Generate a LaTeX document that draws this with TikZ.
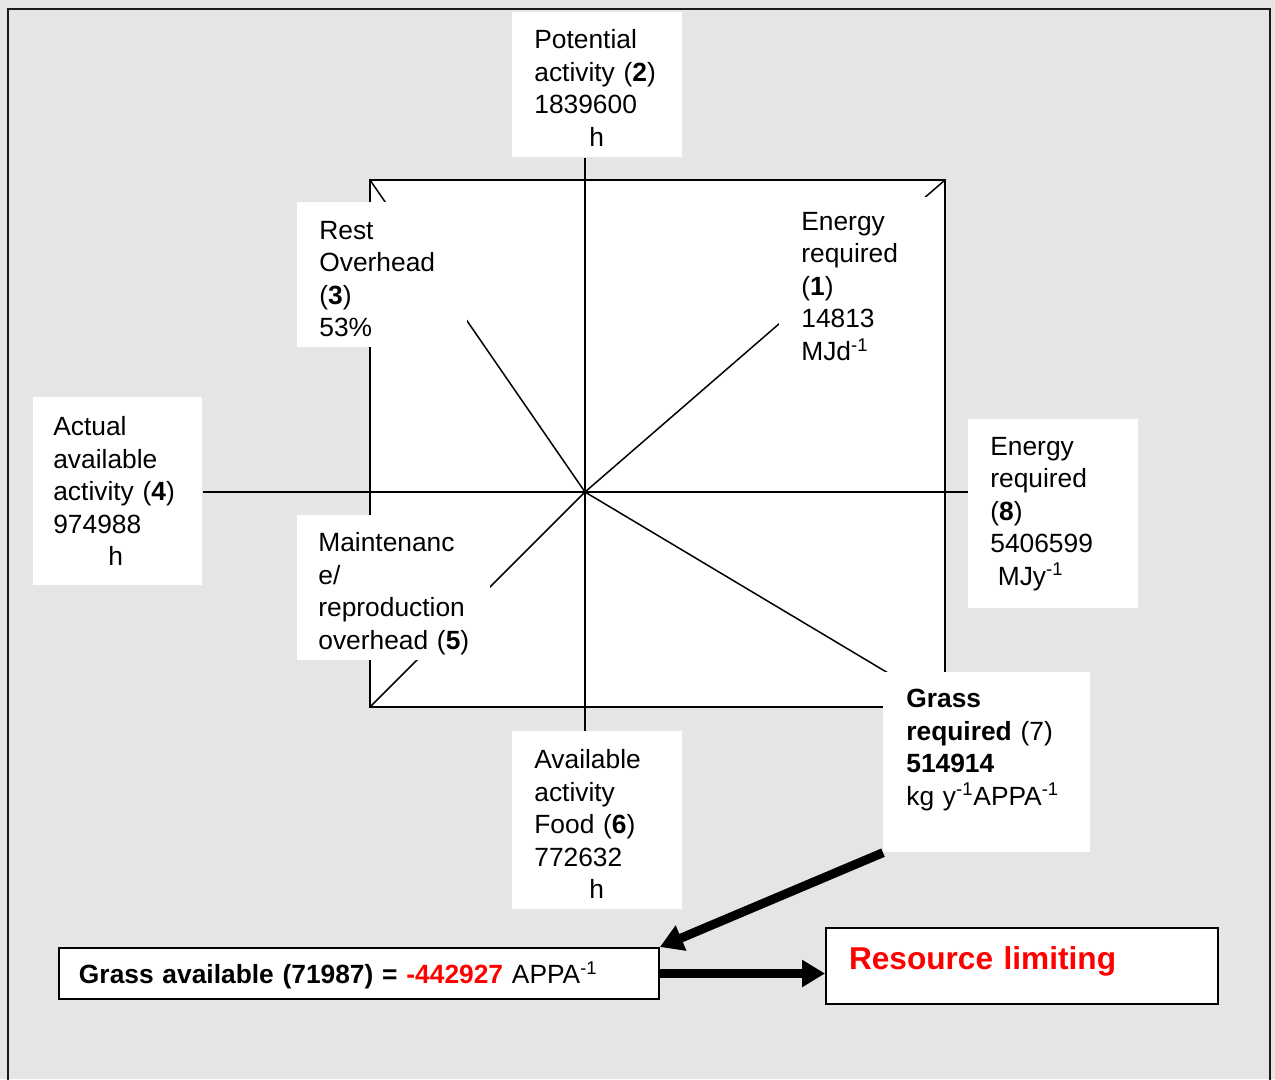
\documentclass[tikz,border=0pt]{standalone}
\usepackage{fontspec}
\setmainfont{Liberation Sans}
\usetikzlibrary{arrows.meta}
\definecolor{pagegray}{HTML}{E5E5E5}
\definecolor{framegray}{HTML}{1A1A1A}
\newcommand\firstgap[1]{\rule{0pt}{#1}}

\begin{document}
\begin{tikzpicture}[
  x=0.02cm, y=-0.02cm,
  every node/.style={font=\fontsize{15}{18.5}\selectfont},
  valbox/.style={fill=white, anchor=north west, align=left, inner ysep=0pt, inner xsep=0.44cm, text width=2.52cm},
  resbox/.style={draw=black, line width=0.04cm, fill=white, anchor=north west, align=left, inner ysep=0pt, inner xsep=0.4cm},
  axis/.style={line width=0.03cm},
  fatarrow/.style={line width=0.18cm, -{Triangle[length=0.46cm, width=0.52cm]}},
]
\useasboundingbox (0,0) rectangle (1275,1079);
\fill[pagegray] (0,0) rectangle (1275,1079);

% Outer frame
\draw[framegray, line width=0.04cm] (8,1090) -- (8,9) -- (1270,9) -- (1270,1090);

% Square and diagonals
\coordinate (c) at (585,492);
\coordinate (tl) at (370,180);
\coordinate (tr) at (945,180);
\coordinate (bl) at (370,707);
\coordinate (br) at (945,707);
\draw[line width=0.04cm, fill=white] (tl) rectangle (br);
\draw[axis] (tl) -- (c);
\draw[axis] (tr) -- (c);
\draw[axis] (bl) -- (c);
\draw[axis] (br) -- (c);

% Value boxes
\node[valbox, text width=2.1cm, minimum height=3.56cm] (b1) at (779,197) {Energy\\required\\(\textbf{1})\\14813\\MJd\textsuperscript{-1}};
\node[valbox, minimum height=2.9cm] (b2) at (512,12) {\firstgap{0.5cm}Potential\\activity (\textbf{2})\\1839600\\\hspace*{1.1cm}h};
\node[valbox, minimum height=2.9cm] (b3) at (297,202) {\firstgap{0.54cm}Rest\\Overhead\\(\textbf{3})\\53\%};
\node[valbox, inner xsep=0.4cm, text width=2.58cm, minimum height=3.76cm] (b4) at (33,397) {Actual\\available\\activity (\textbf{4})\\974988\\\hspace*{1.1cm}h};
\node[valbox, inner xsep=0.42cm, text width=3.02cm, minimum height=2.9cm] (b5) at (297,515) {\firstgap{0.62cm}Maintenanc\\e/\\reproduction\\overhead (\textbf{5})};
\node[valbox, minimum height=3.56cm] (b6) at (512,731) {\firstgap{0.54cm}Available\\activity\\Food (\textbf{6})\\772632\\\hspace*{1.1cm}h};
\node[valbox, inner xsep=0.46cm, text width=3.22cm, minimum height=3.6cm] (b7) at (883,672) {\textbf{Grass}\\\textbf{required} (7)\\\textbf{514914}\\kg y\textsuperscript{-1}APPA\textsuperscript{-1}\rule[-0.61cm]{0pt}{0.61cm}};
\node[valbox, minimum height=3.78cm] (b8) at (968,419) {Energy\\required\\(\textbf{8})\\5406599\\\hspace*{0.15cm}MJy\textsuperscript{-1}};

% Axes
\draw[axis] (c |- b2.south) -- (c |- b6.north);
\draw[axis] (b4.east |- c) -- (b8.west |- c);

% Result boxes
\node[resbox, text width=11.2cm, minimum height=1.02cm] (avail) at (58,947) {\firstgap{0.5cm}\textbf{Grass available (71987) = \textcolor{red}{-442927}} APPA\textsuperscript{-1}};
\node[resbox, inner xsep=0.46cm, text width=6.92cm, minimum height=1.52cm, font=\fontsize{18}{22}\selectfont\bfseries, text=red] (res) at (825,927) {Resource limiting\rule[-0.3cm]{0pt}{0.3cm}};

% Arrows
\draw[fatarrow] (b7.south west) -- (avail.north east);
\draw[fatarrow] (avail.east) -- (avail.east -| res.west);

\end{tikzpicture}
\end{document}
